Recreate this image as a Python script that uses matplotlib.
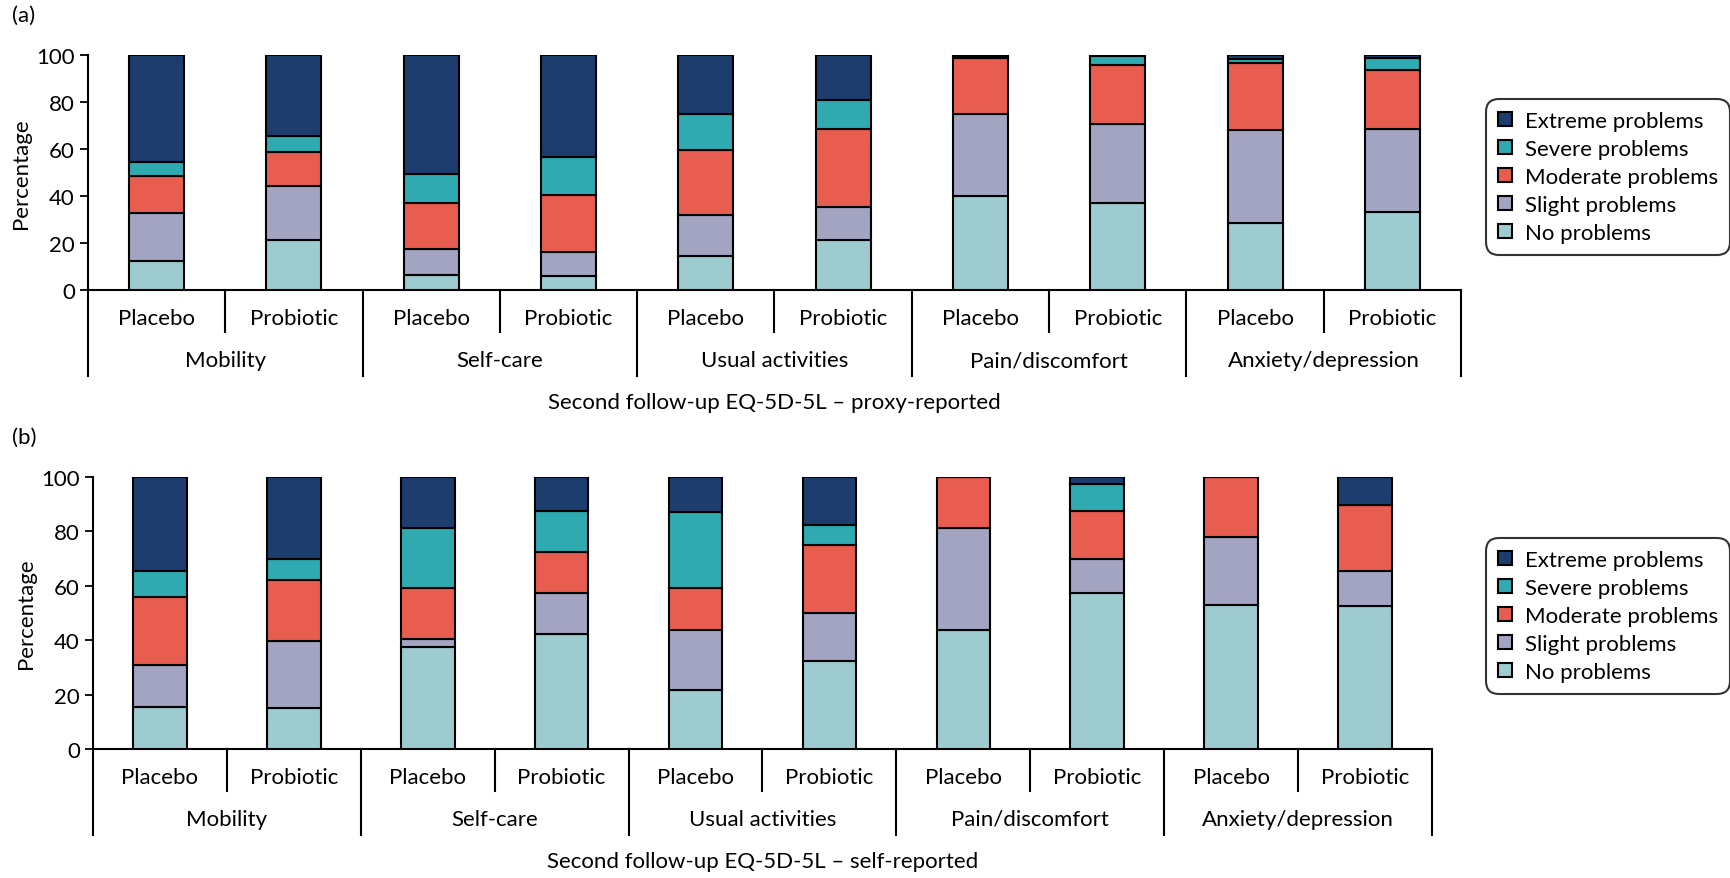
import matplotlib
matplotlib.use("Agg")
import matplotlib.pyplot as plt
import numpy as np

plt.rcParams['font.family'] = ['Lato', 'DejaVu Sans']

arms = ['Placebo', 'Probiotic'] * 5
domains = ['Mobility', 'Self-care', 'Usual activities', 'Pain/discomfort', 'Anxiety/depression']
levels = ['No problems', 'Slight problems', 'Moderate problems', 'Severe problems', 'Extreme problems']
colors = ['#9dcbcf', '#a3a4c2', '#e95d50', '#2eaab0', '#1c3d6e']

# (a) proxy-reported
no_a = [12.2, 21.1, 6.2, 6.1, 14.3, 21.1, 40.0, 37.0, 28.7, 33.2]
slight_a = [20.6, 23.3, 11.2, 9.9, 17.6, 14.2, 35.0, 33.5, 39.2, 35.3]
moderate_a = [15.6, 14.2, 19.6, 24.3, 27.7, 33.4, 23.7, 25.4, 28.7, 25.3]
severe_a = [6.1, 7.1, 12.4, 16.2, 15.4, 12.0, 0.7, 3.8, 1.8, 4.9]
extreme_a = [45.5, 34.3, 50.6, 43.5, 25.0, 19.3, 0.6, 0.3, 1.6, 1.3]

# (b) self-reported
no_b = [15.5, 14.9, 37.5, 42.4, 21.7, 32.4, 43.6, 57.4, 53.1, 52.5]
slight_b = [15.5, 24.9, 2.9, 15.0, 21.9, 17.5, 37.6, 12.6, 24.8, 13.1]
moderate_b = [25.0, 22.5, 18.8, 15.0, 15.7, 25.0, 18.8, 17.5, 22.1, 24.0]
severe_b = [9.5, 7.6, 22.0, 15.1, 28.0, 7.4, 0.0, 9.9, 0.0, 0.0]
extreme_b = [34.5, 30.1, 18.8, 12.5, 12.7, 17.7, 0.0, 2.6, 0.0, 10.4]

FS = 16
W, H = 1731, 879
fig = plt.figure(figsize=(W / 100, H / 100), dpi=100)


def panel(rect_px, series, tag, title, legend_px):
    left, top, right, bottom = rect_px
    ax = fig.add_axes([left / W, 1 - bottom / H, (right - left) / W, (bottom - top) / H])
    hpx = bottom - top
    x = np.arange(10) + 0.5
    base = np.zeros(10)
    handles = []
    for vals, c, lab in zip(series, colors, levels):
        b = ax.bar(x, vals, 0.4, bottom=base, color=c, edgecolor='black',
                   linewidth=1.5, label=lab, zorder=3)
        handles.append(b)
        base += np.array(vals)
    ax.set_xlim(0, 10)
    ax.set_ylim(0, 100)
    ax.set_yticks(range(0, 101, 20))
    ax.set_xticks([])
    ax.tick_params(axis='y', labelsize=FS, length=6, width=1.3, direction='out')
    for s in ['top', 'right']:
        ax.spines[s].set_visible(False)
    ax.spines['left'].set_linewidth(1.5)
    ax.spines['bottom'].set_linewidth(1.5)
    ax.set_ylabel('Percentage', fontsize=FS, labelpad=4)

    tr = ax.get_xaxis_transform()
    f = lambda px: -px / hpx
    for i in range(10):
        ax.text(x[i], f(28), arms[i], transform=tr, ha='center', va='center', fontsize=FS)
    for g in range(5):
        ax.text(2 * g + 1, f(70), domains[g], transform=tr, ha='center', va='center', fontsize=FS)
    for k in range(11):
        depth = 86 if k % 2 == 0 else 42
        ax.plot([k, k], [0, f(depth)], transform=tr, color='black', lw=1.5, clip_on=False)
    ax.text(5, f(112), title, transform=tr, ha='center', va='center', fontsize=FS)
    fig.text(12 / W, 1 - (top - 40) / H, tag, fontsize=FS, ha='left', va='center')

    lx, ly = legend_px
    leg = fig.legend(handles[::-1], levels[::-1], loc='upper left',
                     bbox_to_anchor=(lx / W, 1 - ly / H), fontsize=FS,
                     frameon=True, fancybox=True, handlelength=0.6, handleheight=0.6,
                     handletextpad=0.6, labelspacing=0.36, borderpad=0.55,
                     borderaxespad=0)
    leg.get_frame().set_edgecolor('black')
    leg.get_frame().set_linewidth(1.5)
    leg.get_frame().set_boxstyle('round,pad=0.0,rounding_size=0.6')
    return ax


panel((88, 56, 1461, 291), [no_a, slight_a, moderate_a, severe_a, extreme_a], '(a)',
      'Second follow-up EQ-5D-5L \u2013 proxy-reported', (1486, 100))
panel((93, 478, 1432, 750), [no_b, slight_b, moderate_b, severe_b, extreme_b], '(b)',
      'Second follow-up EQ-5D-5L \u2013 self-reported', (1486, 539))

fig.savefig('out.png', dpi=100)
